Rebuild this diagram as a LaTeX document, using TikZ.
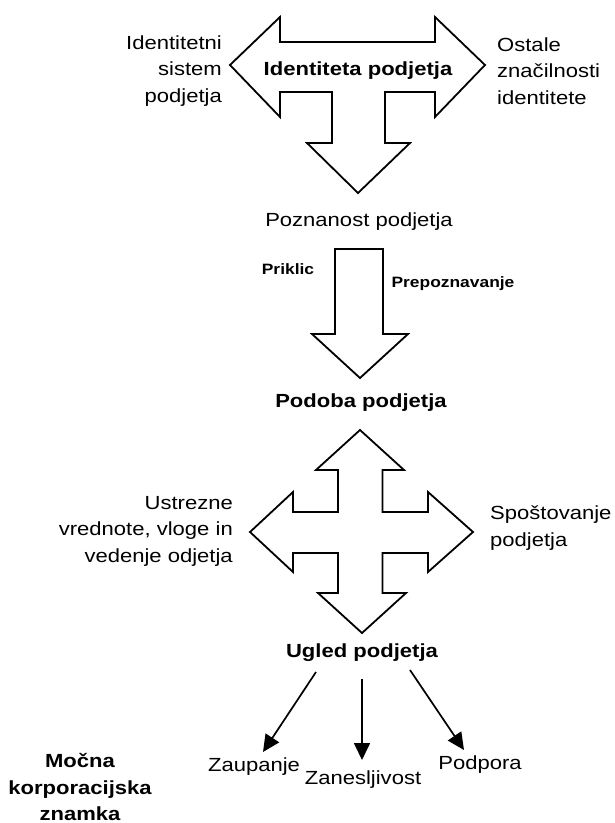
\documentclass[tikz,border=0pt]{standalone}
\usepackage{fontspec}
\setmainfont{Liberation Sans}[FakeStretch=1.16]
\usetikzlibrary{arrows.meta}
\tikzset{
  bigarrow/.style={draw=black, fill=white, line width=1.8pt, line join=miter},
  lbl/.style={font=\fontsize{19}{26.5}\selectfont, inner sep=0pt},
  blbl/.style={font=\fontsize{19}{26.5}\selectfont\bfseries, inner sep=0pt},
  slbl/.style={font=\fontsize{15}{18}\selectfont\bfseries, inner sep=0pt},
  conn/.style={line width=1.7pt, -{Triangle[length=17pt,width=16pt]}}
}
\begin{document}
\begin{tikzpicture}[x=1pt,y=-1pt]
\fill[white] (0,0) rectangle (614,823);
\useasboundingbox (0,0) rectangle (614,823);

% top double arrow with downward arm
\draw[bigarrow] (230,65) -- (280,17) -- (280,42) -- (435,42) -- (435,17) -- (485,65)
  -- (435,117) -- (435,92) -- (385,92) -- (385,143) -- (410,143) -- (358,193)
  -- (307,143) -- (332,143) -- (332,92) -- (280,92) -- (280,117) -- cycle;

% second down arrow
\draw[bigarrow] (335,249) -- (383,249) -- (383,334) -- (408,334) -- (360,378)
  -- (312,334) -- (335,334) -- cycle;

% cross arrow
\draw[bigarrow] (360,430) -- (404,470) -- (382.5,470) -- (382.5,512) -- (428,512)
  -- (428,492) -- (473,532) -- (428,572) -- (428,553) -- (382.5,553) -- (382.5,593)
  -- (406,593) -- (362,633) -- (318,593) -- (338,593) -- (338,553) -- (293,553)
  -- (293,572) -- (250,532) -- (293,492) -- (293,512) -- (338,512) -- (338,470)
  -- (316,470) -- cycle;

% texts
\node[blbl] (ident) at (358,71) {Identiteta podjetja};
\node[lbl, anchor=east, align=right] (isys) at (222,71) {Identitetni\\sistem\\podjetja};
\node[lbl, anchor=west, align=left] (ost) at (497,71) {Ostale\\značilnosti\\identitete};
\node[lbl] (pozn) at (359,222) {Poznanost podjetja};
\node[slbl] (prik) at (288,269) {Priklic};
\node[slbl] (prep) at (453,284) {Prepoznavanje};
\node[blbl] (podoba) at (361,403) {Podoba podjetja};
\node[lbl, anchor=east, align=right] (ustr) at (233,531) {Ustrezne\\vrednote, vloge in\\vedenje odjetja};
\node[lbl, anchor=west, align=left] (spos) at (490,528) {Spoštovanje\\podjetja};
\node[blbl] (ugled) at (362,653) {Ugled podjetja};
\node[lbl] (zaup) at (254,767) {Zaupanje};
\node[lbl] (zanes) at (363,780) {Zanesljivost};
\node[lbl] (podp) at (480,765) {Podpora};
\node[blbl, align=center] (mocna) at (80,787) {Močna\\korporacijska\\znamka};

% connectors
\draw[conn] ([shift={(-46,19)}]ugled.center) -- ([shift={(9,-15)}]zaup.center);
\draw[conn] ([shift={(0,26)}]ugled.center) -- ([shift={(-1,-20)}]zanes.center);
\draw[conn] ([shift={(48,17)}]ugled.center) -- ([shift={(-16,-15)}]podp.center);
\end{tikzpicture}
\end{document}
